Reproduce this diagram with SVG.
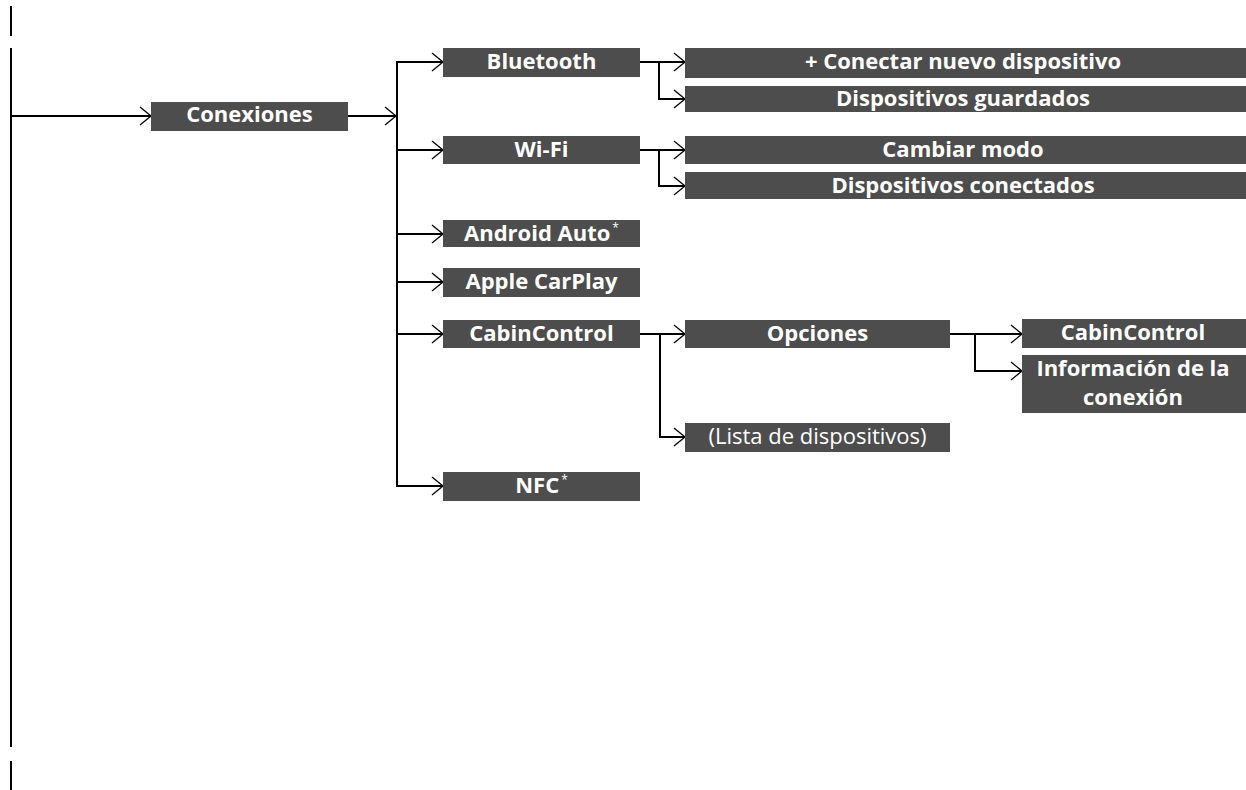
<svg xmlns="http://www.w3.org/2000/svg" width="1246" height="790" viewBox="0 0 1246 790">
<style>
.box{fill:#4d4d4d}
.t{font-family:"Open Sans","Noto Sans","DejaVu Sans",sans-serif;font-size:22px;font-weight:bold;fill:#fff;text-anchor:middle}
.r{font-weight:normal}
.sup{font-size:12px;font-weight:normal}
.ln{fill:none;stroke:#000;stroke-width:2}
.ar{fill:none;stroke:#000;stroke-width:2;marker-end:url(#arr)}
</style>
<defs>
<marker id="arr" markerUnits="userSpaceOnUse" markerWidth="14" markerHeight="22" refX="12" refY="10" orient="auto" viewBox="0 0 14 22">
<path d="M1,1 L12,10 L1,19" fill="none" stroke="#000" stroke-width="1.3"/>
</marker>
</defs>
<rect width="1246" height="790" fill="#fff"/>
<g id="connectors">
<path class="ln" d="M11,6 V36 M11,48 V747 M11,761 V790"/>
<path class="ar" d="M11,116 H151"/>
<path class="ar" d="M348,116 H396"/>
<path class="ln" d="M397,62 V486"/>
<path class="ar" d="M396,62 H443"/>
<path class="ar" d="M396,150 H443"/>
<path class="ar" d="M396,234 H443"/>
<path class="ar" d="M396,282 H443"/>
<path class="ar" d="M396,334 H443"/>
<path class="ar" d="M396,486 H443"/>
<path class="ar" d="M640,62 H685"/>
<path class="ar" d="M659,62 V99 H685"/>
<path class="ar" d="M640,150 H685"/>
<path class="ar" d="M659,150 V186 H685"/>
<path class="ar" d="M640,334 H685"/>
<path class="ar" d="M660,334 V437 H685"/>
<path class="ar" d="M950,334 H1022"/>
<path class="ar" d="M975,334 V371 H1022"/>
</g>
<g id="conexiones"><rect class="box" x="151" y="102" width="197" height="29"/><text class="t" x="249.5" y="122">Conexiones</text></g>
<g id="bluetooth"><rect class="box" x="443" y="48" width="197" height="29"/><text class="t" x="541.5" y="69">Bluetooth</text></g>
<g id="wifi"><rect class="box" x="443" y="136" width="197" height="28"/><text class="t" x="541.5" y="157">Wi-Fi</text></g>
<g id="android-auto"><rect class="box" x="443" y="220" width="197" height="27"/><text class="t" x="541.5" y="241">Android Auto<tspan class="sup" dx="2" dy="-9">*</tspan></text></g>
<g id="apple-carplay"><rect class="box" x="443" y="268" width="197" height="29"/><text class="t" x="541.5" y="289">Apple CarPlay</text></g>
<g id="cabincontrol"><rect class="box" x="443" y="320" width="197" height="28"/><text class="t" x="541.5" y="341">CabinControl</text></g>
<g id="nfc"><rect class="box" x="443" y="472" width="197" height="29"/><text class="t" x="541.5" y="493">NFC<tspan class="sup" dx="2" dy="-9">*</tspan></text></g>
<g id="conectar-nuevo"><rect class="box" x="685" y="48" width="561" height="30"/><text class="t" x="963" y="69">+ Conectar nuevo dispositivo</text></g>
<g id="dispositivos-guardados"><rect class="box" x="685" y="86" width="561" height="26"/><text class="t" x="963" y="106">Dispositivos guardados</text></g>
<g id="cambiar-modo"><rect class="box" x="685" y="136" width="561" height="28"/><text class="t" x="963" y="157">Cambiar modo</text></g>
<g id="dispositivos-conectados"><rect class="box" x="685" y="172" width="561" height="27"/><text class="t" x="963" y="193">Dispositivos conectados</text></g>
<g id="opciones"><rect class="box" x="685" y="320" width="265" height="28"/><text class="t" x="817.5" y="341">Opciones</text></g>
<g id="lista-dispositivos"><rect class="box" x="685" y="423" width="265" height="29"/><text class="t r" x="817.5" y="444">(Lista de dispositivos)</text></g>
<g id="cabincontrol-opt"><rect class="box" x="1022" y="319" width="224" height="29"/><text class="t" x="1133" y="340">CabinControl</text></g>
<g id="informacion-conexion"><rect class="box" x="1022" y="355" width="224" height="58"/><text class="t" x="1133" y="376">Información de la</text><text class="t" x="1133" y="405">conexión</text></g>
</svg>
